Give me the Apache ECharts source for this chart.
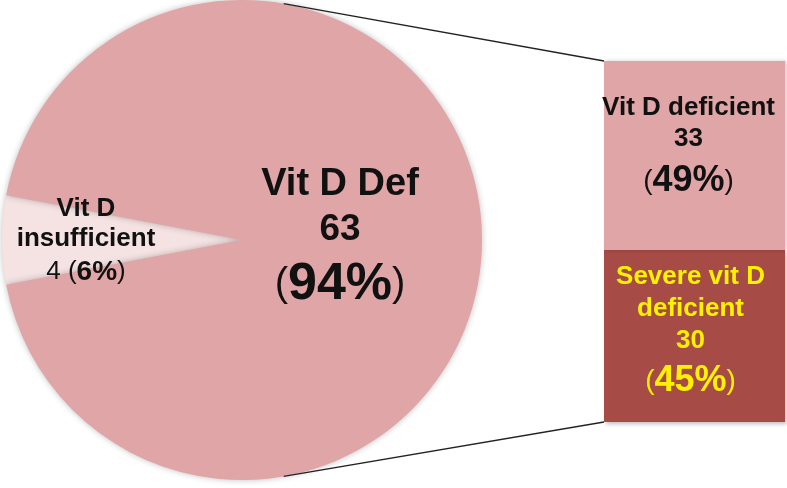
<!DOCTYPE html>
<html>
<head>
<meta charset="utf-8">
<script src="https://cdn.jsdelivr.net/npm/echarts@6/dist/echarts.min.js"></script>
<style>
  html, body { margin: 0; padding: 0; background: #fff; }
  #chart { width: 787px; height: 488px; }
</style>
</head>
<body>
<div id="chart"></div>
<script>
// pie data (left)
const pieNames = ['Vit D insufficient', 'Vit D Def'];
const pieValues = [4, 63];
const piePct = [6, 94];
// breakdown bar data (right), bottom -> top
const barNames = ['Severe vit D deficient', 'Vit D deficient'];
const barValues = [30, 33];
const barPct = [45, 49];

const FONT = '"Liberation Sans", Arial, sans-serif';
const pieCenter = [242, 240];
const pieRadius = 240;
const pink = '#E0A5A6';

const chart = echarts.init(document.getElementById('chart'));

const total = pieValues[0] + pieValues[1];
const startAngle = 180 + (pieValues[0] / total) * 180;

const option = {
  animation: false,
  backgroundColor: '#fff',
  grid: { left: 604, right: 2, top: 61, bottom: 66 },
  xAxis: { type: 'category', data: ['def'], show: false },
  yAxis: { type: 'value', min: 0, max: barValues[0] + barValues[1], show: false },
  series: [
    {
      type: 'pie',
      center: pieCenter,
      radius: pieRadius,
      startAngle: startAngle,
      clockwise: true,
      silent: true,
      labelLine: { show: false },
      itemStyle: { shadowBlur: 6, shadowColor: 'rgba(0,0,0,0.25)' },
      data: [
        {
          name: pieNames[0], value: pieValues[0],
          itemStyle: { color: '#F5E3E3' },
          label: {
            show: true, position: 'inside', padding: [4, 66, 0, 0],
            formatter: '{a|Vit D}\n{a|insufficient}\n{b|' + pieValues[0] + ' (}{c|' + piePct[0] + '%}{b|)}',
            rich: {
              a: { fontFamily: FONT, fontSize: 26, fontWeight: 'bold', color: '#111', lineHeight: 30, align: 'center' },
              b: { fontFamily: FONT, fontSize: 26, color: '#111', lineHeight: 36 },
              c: { fontFamily: FONT, fontSize: 28, fontWeight: 'bold', color: '#111', lineHeight: 36 }
            }
          }
        },
        {
          name: pieNames[1], value: pieValues[1],
          itemStyle: { color: pink },
          label: {
            show: true, position: 'inside', padding: [0, 50, 0, 0],
            formatter: '{t|Vit D Def}\n{n|' + pieValues[1] + '}\n{p|(}{q|' + piePct[1] + '%}{p|)}',
            rich: {
              t: { fontFamily: FONT, fontSize: 38, fontWeight: 'bold', color: '#111', lineHeight: 44, align: 'center' },
              n: { fontFamily: FONT, fontSize: 37, fontWeight: 'bold', color: '#111', lineHeight: 46, align: 'center' },
              p: { fontFamily: FONT, fontSize: 40, color: '#111', lineHeight: 64 },
              q: { fontFamily: FONT, fontSize: 52, fontWeight: 'bold', color: '#111', lineHeight: 64 }
            }
          }
        }
      ]
    },
    {
      type: 'bar', stack: 'd', name: barNames[0],
      barWidth: '100%', silent: true,
      itemStyle: { color: '#A64B45', shadowBlur: 4, shadowOffsetX: 2, shadowOffsetY: 2, shadowColor: 'rgba(0,0,0,0.25)' },
      label: {
        show: true, position: 'inside', offset: [-4, -3],
        formatter: '{a|Severe vit D}\n{a|deficient}\n{a|' + barValues[0] + '}\n{p|(}{q|' + barPct[0] + '%}{p|)}',
        rich: {
          a: { fontFamily: FONT, fontSize: 26, fontWeight: 'bold', color: '#FFF200', lineHeight: 32, align: 'center' },
          p: { fontFamily: FONT, fontSize: 28, color: '#FFF200', lineHeight: 49 },
          q: { fontFamily: FONT, fontSize: 36, fontWeight: 'bold', color: '#FFF200', lineHeight: 49 }
        }
      },
      data: [barValues[0]]
    },
    {
      type: 'bar', stack: 'd', name: barNames[1],
      barWidth: '100%', silent: true,
      itemStyle: { color: pink, shadowBlur: 4, shadowOffsetX: 2, shadowOffsetY: 0, shadowColor: 'rgba(0,0,0,0.2)' },
      label: {
        show: true, position: 'inside', offset: [-6, -5],
        formatter: '{a|Vit D deficient}\n{a|' + barValues[1] + '}\n{p|(}{q|' + barPct[1] + '%}{p|)}',
        rich: {
          a: { fontFamily: FONT, fontSize: 26, fontWeight: 'bold', color: '#111', lineHeight: 31, align: 'center' },
          p: { fontFamily: FONT, fontSize: 28, color: '#111', lineHeight: 54 },
          q: { fontFamily: FONT, fontSize: 36, fontWeight: 'bold', color: '#111', lineHeight: 54 }
        }
      },
      data: [barValues[1]]
    }
  ]
};

chart.setOption(option);

// connector lines from the pie rim to the bar corners
const barTop = chart.convertToPixel({ seriesIndex: 2 }, [0, barValues[0] + barValues[1]]);
const barBottom = chart.convertToPixel({ seriesIndex: 1 }, [0, 0]);
const barLeft = 604;
const rimAngle = 80 * Math.PI / 180;
const rimX = pieCenter[0] + pieRadius * Math.cos(rimAngle);
const rimDy = pieRadius * Math.sin(rimAngle);

chart.setOption({
  graphic: [
    { type: 'line', z: 10, shape: { x1: rimX, y1: pieCenter[1] - rimDy, x2: barLeft, y2: barTop[1] },
      style: { stroke: '#222', lineWidth: 1.3 } },
    { type: 'line', z: 10, shape: { x1: rimX, y1: pieCenter[1] + rimDy, x2: barLeft, y2: barBottom[1] },
      style: { stroke: '#222', lineWidth: 1.3 } }
  ]
});
</script>
</body>
</html>
